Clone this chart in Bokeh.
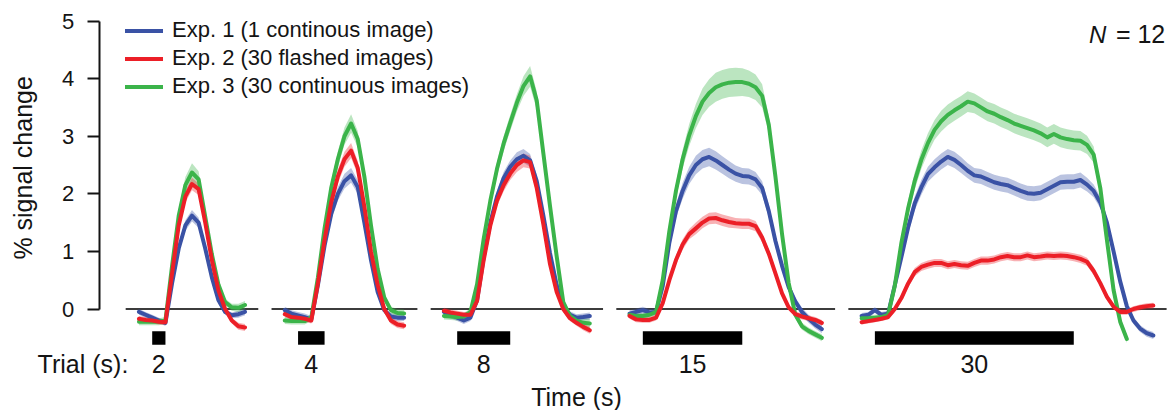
import numpy as np
from bokeh.plotting import figure
from bokeh.models import Range1d, LinearAxis, FixedTicker, Legend, LegendItem
from bokeh.core.properties import value
from bokeh.embed import file_html
from bokeh.resources import INLINE

# ---------------- data ----------------
TRIAL_DURATIONS = [2, 4, 8, 15, 30]          # s
TRIAL_LABELS = ["2", "4", "8", "15", "30"]
SERIES_LABELS = ["Exp. 1 (1 continous image)",
                 "Exp. 2 (30 flashed images)",
                 "Exp. 3 (30 continuous images)"]
Y_TICKS = [0, 1, 2, 3, 4, 5]
N_SUBJECTS = 12
T_FIRST = -2   # first sample (s, relative to trial onset), 1-s sampling

# Exp. 1 (blue) % signal change
exp1_2s = [-0.05, -0.1, -0.15, -0.2, -0.24, 0.45, 1.05, 1.45, 1.62, 1.5, 1.05, 0.55, 0.15, -0.05, -0.11, -0.09, -0.05]
exp1_4s = [-0.02, -0.08, -0.11, -0.14, -0.18, 0.42, 1.1, 1.65, 2.0, 2.22, 2.32, 2.12, 1.5, 0.85, 0.3, -0.02, -0.13, -0.15, -0.15]
exp1_8s = [-0.05, -0.1, -0.15, -0.2, -0.15, 0.15, 0.9, 1.5, 1.95, 2.27, 2.47, 2.6, 2.66, 2.58, 2.22, 1.62, 0.97, 0.42, 0.05, -0.1, -0.15, -0.14, -0.12]
exp1_15s = [-0.08, -0.05, -0.02, -0.06, -0.05, 0.4, 1.15, 1.7, 2.05, 2.32, 2.5, 2.6, 2.64, 2.58, 2.5, 2.42, 2.35, 2.31, 2.3, 2.25, 2.1, 1.7, 1.18, 0.75, 0.38, 0.13, -0.05, -0.17, -0.27, -0.35]
exp1_30s = [-0.12, -0.1, -0.02, -0.1, -0.08, 0.41, 0.9, 1.41, 1.83, 2.11, 2.34, 2.46, 2.56, 2.64, 2.59, 2.5, 2.4, 2.32, 2.3, 2.25,
            2.2, 2.17, 2.15, 2.1, 2.05, 2.01, 2.0, 2.02, 2.08, 2.14, 2.2, 2.21, 2.21, 2.24, 2.16, 2.05, 1.85, 1.5, 1.0, 0.48,
            0.05, -0.2, -0.34, -0.42, -0.46]

# Exp. 2 (red)
exp2_2s = [-0.17, -0.19, -0.2, -0.22, -0.23, 0.62, 1.45, 1.95, 2.17, 2.08, 1.5, 0.85, 0.32, 0.0, -0.2, -0.3, -0.32]
exp2_4s = [-0.09, -0.14, -0.15, -0.17, -0.2, 0.45, 1.2, 1.85, 2.3, 2.6, 2.75, 2.45, 1.78, 1.0, 0.42, 0.0, -0.2, -0.27, -0.29]
exp2_8s = [-0.03, -0.06, -0.08, -0.1, -0.1, 0.14, 0.85, 1.45, 1.88, 2.15, 2.35, 2.5, 2.58, 2.55, 2.1, 1.47, 0.78, 0.3, 0.0, -0.16, -0.24, -0.31, -0.37]
exp2_15s = [-0.12, -0.18, -0.19, -0.19, -0.15, 0.1, 0.5, 0.85, 1.12, 1.3, 1.4, 1.5, 1.57, 1.58, 1.54, 1.51, 1.49, 1.48, 1.48, 1.44, 1.24, 0.96, 0.62, 0.27, 0.03, -0.09, -0.13, -0.16, -0.19, -0.24]
exp2_30s = [-0.23, -0.21, -0.19, -0.17, -0.14, 0.0, 0.19, 0.44, 0.64, 0.73, 0.77, 0.8, 0.8, 0.76, 0.78, 0.76, 0.75, 0.8, 0.84, 0.84,
            0.86, 0.9, 0.92, 0.9, 0.9, 0.93, 0.9, 0.91, 0.93, 0.92, 0.93, 0.92, 0.9, 0.87, 0.82, 0.66, 0.45, 0.21, 0.04, -0.05,
            -0.05, 0.0, 0.03, 0.05, 0.06]

# Exp. 3 (green)
exp3_2s = [-0.22, -0.22, -0.22, -0.22, -0.2, 0.75, 1.62, 2.15, 2.37, 2.25, 1.6, 0.95, 0.42, 0.12, 0.03, 0.02, 0.07]
exp3_4s = [-0.2, -0.21, -0.21, -0.21, -0.15, 0.55, 1.4, 2.1, 2.6, 3.0, 3.22, 2.95, 2.3, 1.45, 0.7, 0.2, -0.02, -0.07, -0.08]
exp3_8s = [-0.12, -0.13, -0.14, -0.13, -0.05, 0.43, 1.22, 1.88, 2.43, 2.87, 3.23, 3.58, 3.87, 4.04, 3.62, 2.7, 1.79, 0.92, 0.12, -0.12, -0.2, -0.24, -0.25]
exp3_15s = [-0.1, -0.12, -0.12, -0.1, -0.05, 0.5, 1.35, 2.05, 2.6, 3.02, 3.35, 3.6, 3.75, 3.85, 3.9, 3.93, 3.94, 3.94, 3.91, 3.85, 3.7, 3.2, 2.3, 1.3, 0.45, -0.1, -0.3, -0.38, -0.44, -0.5]
exp3_30s = [-0.16, -0.16, -0.15, -0.14, -0.1, 0.4, 1.15, 1.74, 2.22, 2.59, 2.88, 3.11, 3.26, 3.37, 3.45, 3.52, 3.6, 3.57, 3.5, 3.43,
            3.39, 3.33, 3.28, 3.22, 3.18, 3.14, 3.1, 3.05, 2.98, 3.04, 2.98, 2.95, 2.93, 2.92, 2.85, 2.68, 2.1, 1.2, 0.33, -0.22,
            -0.52]

# standard errors (half width of shaded bands)
sem1_2s = [0.05, 0.05, 0.05, 0.05, 0.05, 0.06, 0.08, 0.09, 0.1, 0.09, 0.08, 0.07, 0.06, 0.05, 0.05, 0.06, 0.06]
sem1_4s = [0.06, 0.06, 0.06, 0.06, 0.06, 0.07, 0.09, 0.11, 0.12, 0.13, 0.13, 0.12, 0.1, 0.08, 0.07, 0.06, 0.06, 0.06, 0.06]
sem1_8s = [0.06, 0.06, 0.06, 0.06, 0.06, 0.07, 0.08, 0.09, 0.1, 0.11, 0.11, 0.12, 0.12, 0.11, 0.1, 0.09, 0.08, 0.07, 0.06, 0.06, 0.06, 0.06, 0.06]
sem1_15s = [0.06, 0.06, 0.06, 0.06, 0.06, 0.08, 0.1, 0.12, 0.14, 0.15, 0.16, 0.16, 0.16, 0.16, 0.15, 0.15, 0.14, 0.14, 0.14, 0.13,
            0.12, 0.11, 0.1, 0.09, 0.08, 0.07, 0.07, 0.07, 0.07, 0.07]
sem1_30s = [0.05, 0.05, 0.05, 0.05, 0.05, 0.07, 0.09, 0.11, 0.12, 0.13, 0.13, 0.14, 0.14, 0.14, 0.14, 0.14, 0.13, 0.13, 0.13, 0.13,
            0.13, 0.13, 0.13, 0.13, 0.13, 0.13, 0.13, 0.13, 0.13, 0.13, 0.13, 0.13, 0.13, 0.13, 0.12, 0.11, 0.1, 0.09, 0.08, 0.07,
            0.06, 0.06, 0.06, 0.06, 0.06]

sem2_2s = [0.05, 0.05, 0.05, 0.05, 0.05, 0.07, 0.09, 0.1, 0.11, 0.1, 0.09, 0.08, 0.06, 0.05, 0.05, 0.06, 0.06]
sem2_4s = [0.05, 0.05, 0.05, 0.05, 0.05, 0.07, 0.09, 0.11, 0.12, 0.13, 0.13, 0.12, 0.1, 0.08, 0.06, 0.05, 0.06, 0.06, 0.06]
sem2_8s = [0.05, 0.05, 0.05, 0.05, 0.05, 0.06, 0.08, 0.09, 0.1, 0.11, 0.11, 0.12, 0.12, 0.11, 0.1, 0.09, 0.07, 0.06, 0.05, 0.05, 0.05, 0.06, 0.06]
sem2_15s = [0.05, 0.05, 0.05, 0.05, 0.05, 0.06, 0.07, 0.08, 0.09, 0.09, 0.1, 0.1, 0.1, 0.1, 0.1, 0.1, 0.09, 0.09, 0.09, 0.09,
            0.08, 0.07, 0.07, 0.06, 0.05, 0.05, 0.05, 0.05, 0.05, 0.05]
sem2_30s = [0.04, 0.04, 0.04, 0.04, 0.04, 0.05, 0.06, 0.07, 0.07, 0.07, 0.07, 0.07, 0.07, 0.07, 0.07, 0.07, 0.07, 0.07, 0.07, 0.07,
            0.07, 0.07, 0.07, 0.07, 0.07, 0.07, 0.07, 0.07, 0.07, 0.07, 0.07, 0.07, 0.07, 0.07, 0.07, 0.07, 0.06, 0.06, 0.05, 0.05,
            0.05, 0.05, 0.05, 0.05, 0.05]

sem3_2s = [0.06, 0.06, 0.06, 0.06, 0.06, 0.08, 0.11, 0.14, 0.16, 0.14, 0.11, 0.09, 0.07, 0.06, 0.06, 0.07, 0.07]
sem3_4s = [0.06, 0.06, 0.06, 0.06, 0.06, 0.08, 0.1, 0.12, 0.14, 0.15, 0.16, 0.14, 0.11, 0.09, 0.07, 0.06, 0.06, 0.07, 0.07]
sem3_8s = [0.06, 0.06, 0.06, 0.06, 0.06, 0.07, 0.09, 0.11, 0.12, 0.13, 0.14, 0.15, 0.17, 0.18, 0.16, 0.13, 0.1, 0.08, 0.07, 0.07, 0.08, 0.08, 0.08]
sem3_15s = [0.05, 0.05, 0.05, 0.05, 0.05, 0.07, 0.1, 0.13, 0.16, 0.19, 0.21, 0.23, 0.24, 0.25, 0.25, 0.25, 0.25, 0.24, 0.23, 0.22,
            0.2, 0.15, 0.1, 0.08, 0.07, 0.06, 0.06, 0.06, 0.06, 0.06]
sem3_30s = [0.05, 0.05, 0.05, 0.05, 0.05, 0.07, 0.1, 0.13, 0.15, 0.16, 0.17, 0.17, 0.18, 0.18, 0.18, 0.18, 0.18, 0.17, 0.17, 0.17,
            0.17, 0.17, 0.17, 0.17, 0.17, 0.17, 0.17, 0.17, 0.17, 0.17, 0.17, 0.17, 0.17, 0.17, 0.16, 0.14, 0.12, 0.1, 0.08, 0.07,
            0.07]

EXP_MEANS = [[exp1_2s, exp1_4s, exp1_8s, exp1_15s, exp1_30s],
             [exp2_2s, exp2_4s, exp2_8s, exp2_15s, exp2_30s],
             [exp3_2s, exp3_4s, exp3_8s, exp3_15s, exp3_30s]]
EXP_SEMS = [[sem1_2s, sem1_4s, sem1_8s, sem1_15s, sem1_30s],
            [sem2_2s, sem2_4s, sem2_8s, sem2_15s, sem2_30s],
            [sem3_2s, sem3_4s, sem3_8s, sem3_15s, sem3_30s]]

# ---------------- style ----------------
COLORS = ["#3a52a5", "#ec1f27", "#3bb44a"]
DRAW_ORDER = [0, 2, 1]          # blue, green, red on top
FONT = "Liberation Sans"
TEXT_COLOR = "#141414"
PANEL_GAP = 20                   # s between the end of one trial block and next onset
PRE, POST = 4, 14                # extent of zero line around trial

onsets = []
o = 0.0
for d in TRIAL_DURATIONS:
    onsets.append(o)
    o += d + PANEL_GAP
onsets = np.array(onsets)
durs = np.array(TRIAL_DURATIONS, dtype=float)

p = figure(width=1172, height=410, output_backend="svg", toolbar_location=None,
           x_range=Range1d(-22.88, 153.89), y_range=Range1d(-1.762, 5.356),
           x_axis_type=None, y_axis_type=None, min_border=0)
p.outline_line_color = None
p.background_fill_color = "white"
p.border_fill_color = "white"

# y axis drawn at a fixed place inside the frame
yax = LinearAxis(fixed_location=-8.0, bounds=(0, 5), ticker=FixedTicker(ticks=Y_TICKS))
yax.axis_line_width = 2
yax.axis_line_color = TEXT_COLOR
yax.major_tick_line_width = 2
yax.major_tick_line_color = TEXT_COLOR
yax.major_tick_out = 12
yax.major_tick_in = 0
yax.minor_tick_line_color = None
yax.major_label_standoff = 13
yax.major_label_text_font = FONT
yax.major_label_text_font_size = "22px"
yax.major_label_text_color = TEXT_COLOR
p.add_layout(yax, "left")

# zero lines per trial block
p.segment(x0=onsets - PRE, x1=onsets + durs + POST, y0=0, y1=0,
          line_color="#3c3c3c", line_width=2)

# stimulus bars
p.quad(left=onsets, right=onsets + durs, bottom=-0.62, top=-0.385,
       fill_color="black", line_color=None)

# bands
for s in DRAW_ORDER:
    xs, ys = [], []
    for k in range(len(TRIAL_DURATIONS)):
        m = np.array(EXP_MEANS[s][k]); e = np.array(EXP_SEMS[s][k])
        t = T_FIRST + np.arange(len(m)) + onsets[k]
        xs.append(np.concatenate([t, t[::-1]]))
        ys.append(np.concatenate([m + e, (m - e)[::-1]]))
    p.patches(xs, ys, fill_color=COLORS[s], fill_alpha=0.35, line_color=None)

# mean lines
line_r = {}
for s in DRAW_ORDER:
    xs, ys = [], []
    for k in range(len(TRIAL_DURATIONS)):
        m = np.array(EXP_MEANS[s][k])
        t = T_FIRST + np.arange(len(m)) + onsets[k]
        xs.append(t); ys.append(m)
    line_r[s] = p.multi_line(xs, ys, line_color=COLORS[s], line_width=4,
                             line_join="round", line_cap="round")

# texts
txt = dict(text_font=value(FONT), text_color=TEXT_COLOR)
p.text(x=onsets + durs / 2, y=[-0.96] * len(onsets), text=TRIAL_LABELS,
       text_align="center", text_baseline="middle", text_font_size="25px", **txt)
p.text(x=[-3.6], y=[-0.96], text=["Trial (s):"], text_align="right",
       text_baseline="middle", text_font_size="25px", **txt)
p.text(x=[64.0], y=[-1.52], text=["Time (s)"], text_align="center",
       text_baseline="middle", text_font_size="25px", **txt)
p.text(x=[-19.5], y=[2.45], text=["% signal change"], angle=np.pi / 2,
       text_align="center", text_baseline="middle", text_font_size="25px", **txt)
p.text(x=[141.3], y=[4.77], text=["N"], text_align="left", text_baseline="middle",
       text_font_size="24px", text_font_style="italic", **txt)
p.text(x=[152.8], y=[4.77], text=["= %d" % N_SUBJECTS], text_align="right",
       text_baseline="middle", text_font_size="25px", **txt)

legend = Legend(items=[LegendItem(label=SERIES_LABELS[s], renderers=[line_r[s]]) for s in range(3)],
                location=(125, 311), glyph_width=38, glyph_height=25, label_height=25,
                spacing=2, padding=0, margin=0, label_standoff=9,
                label_text_font=FONT, label_text_font_size="22px", label_text_color=TEXT_COLOR,
                border_line_color=None, background_fill_alpha=0)
p.add_layout(legend)

open("out.html", "w").write(file_html(p, INLINE))
